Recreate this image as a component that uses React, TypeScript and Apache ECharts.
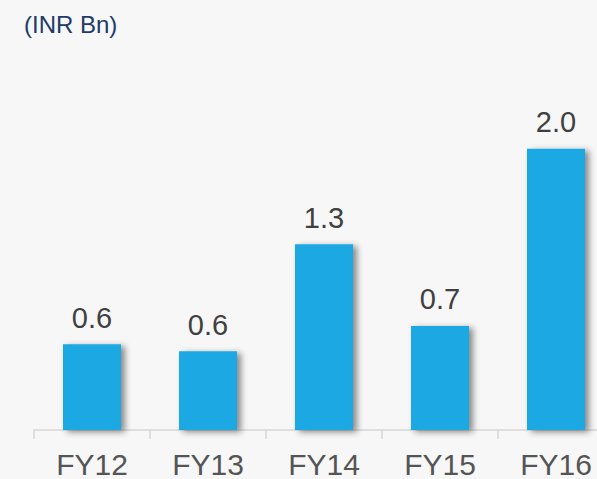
import React, { useEffect, useRef } from "react";
import * as echarts from "echarts";

const categories = ["FY12", "FY13", "FY14", "FY15", "FY16"];
const values = [0.61, 0.56, 1.32, 0.74, 2.0];
const unitLabel = "(INR Bn)";

export default function App() {
  const ref = useRef<HTMLDivElement>(null);
  useEffect(() => {
    if (!ref.current) return;
    const chart = echarts.init(ref.current, null, { renderer: "svg" });
    chart.setOption({
      animation: false,
      backgroundColor: "#f7f7f7",
      title: {
        text: unitLabel,
        left: 19,
        top: 7,
        textStyle: {
          fontFamily: "Liberation Sans, Arial, sans-serif",
          fontSize: 24,
          fontWeight: "normal",
          color: "#1f3a68",
        },
      },
      grid: { left: 34, right: 0, top: 8, bottom: 46, containLabel: false },
      xAxis: {
        type: "category",
        data: categories,
        axisLine: { show: true, lineStyle: { color: "#d6d6d6", width: 1.5 } },
        axisTick: { show: true, length: 9, lineStyle: { color: "#d6d6d6", width: 1.5 } },
        axisLabel: {
          margin: 19,
          fontFamily: "Liberation Sans, Arial, sans-serif",
          fontSize: 30,
          color: "#555555",
        },
      },
      yAxis: {
        type: "value",
        min: 0,
        max: 3,
        show: false,
        splitLine: { show: false },
      },
      series: [
        {
          type: "bar",
          data: values,
          barWidth: "50%",
          itemStyle: {
            color: "#1aa8e2",
            shadowColor: "rgba(0,0,0,0.45)",
            shadowBlur: 6,
            shadowOffsetX: 4,
            shadowOffsetY: 2,
          },
          label: {
            show: true,
            position: "top",
            distance: 12,
            fontFamily: "Liberation Sans, Arial, sans-serif",
            fontSize: 29,
            color: "#404040",
            formatter: (p: any) => Number(p.value).toFixed(1),
          },
        },
      ],
    });
    return () => chart.dispose();
  }, []);
  return (
    <div style={{ position: "absolute", left: 0, top: 0, width: 597, height: 479, overflow: "hidden" }}>
      <div ref={ref} style={{ width: 614, height: 479 }} />
    </div>
  );
}
